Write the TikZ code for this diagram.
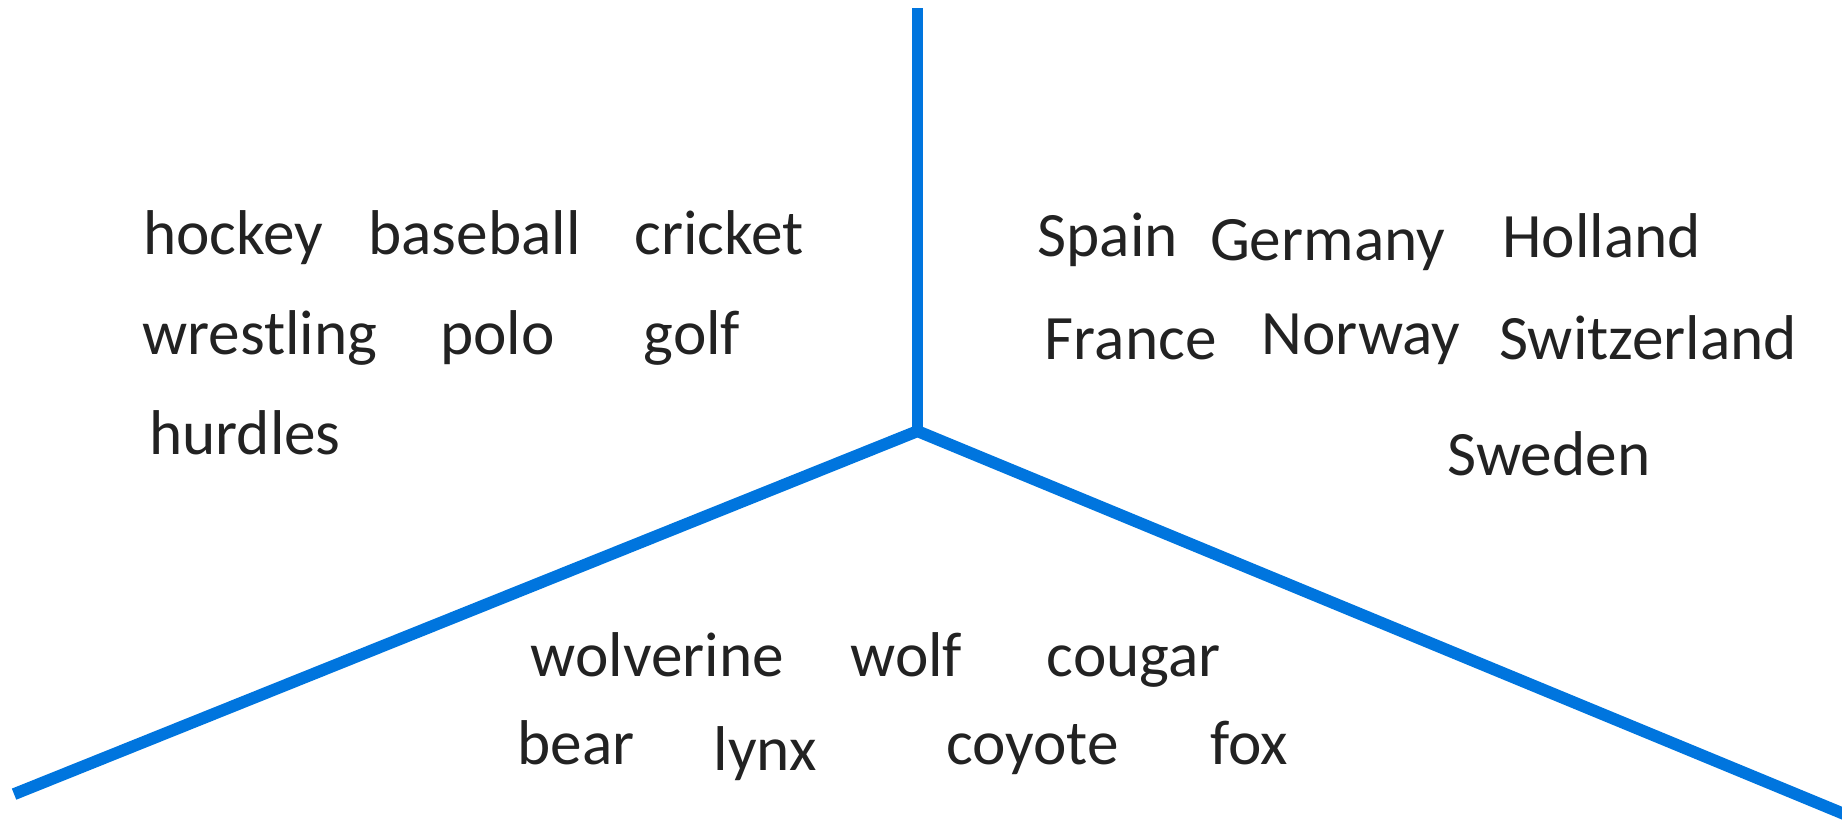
\documentclass[tikz,border=0pt]{standalone}
\usepackage{fontspec}
\setmainfont{Carlito}
\usepackage{tikz}
\definecolor{armblue}{RGB}{0,117,222}
\definecolor{ink}{RGB}{34,34,34}

\begin{document}
\begin{tikzpicture}[x=0.0235cm,y=-0.0235cm,
	word/.style={anchor=base,inner sep=0pt,text=ink,font=\fontsize{36}{43}\selectfont},
	arm/.style={draw=armblue,line width=6.8pt}]
	\useasboundingbox (0,0) rectangle (1568,700);

	\coordinate (hub) at (781,367);
	\coordinate (top) at (781,7);
	\coordinate (left) at (12,676);
	\coordinate (right) at (1570,693);
	\draw[arm] (top) -- (hub);
	\draw[arm] (left) -- (hub) -- (right);

	\foreach \w/\x/\y in {hockey/198.5/217,baseball/404/217,cricket/612/217,
			wrestling/221/302,polo/423.5/302,golf/589/302,hurdles/208.5/387}{
		\node[word] (\w) at (\x,\y) {\w};
	}
	\foreach \w/\x/\y in {Spain/943/218,Germany/1130/222,Holland/1363.5/219,
			France/962.5/306,Norway/1158.5/302,Switzerland/1403/306,Sweden/1318.5/405}{
		\node[word] (\w) at (\x,\y) {\w};
	}
	\foreach \w/\x/\y in {wolverine/559.5/576,wolf/771.5/576,cougar/965/576,
			bear/490.5/651,lynx/651.5/656,coyote/879/651,fox/1063.5/651}{
		\node[word] (\w) at (\x,\y) {\w};
	}
\end{tikzpicture}
\end{document}
